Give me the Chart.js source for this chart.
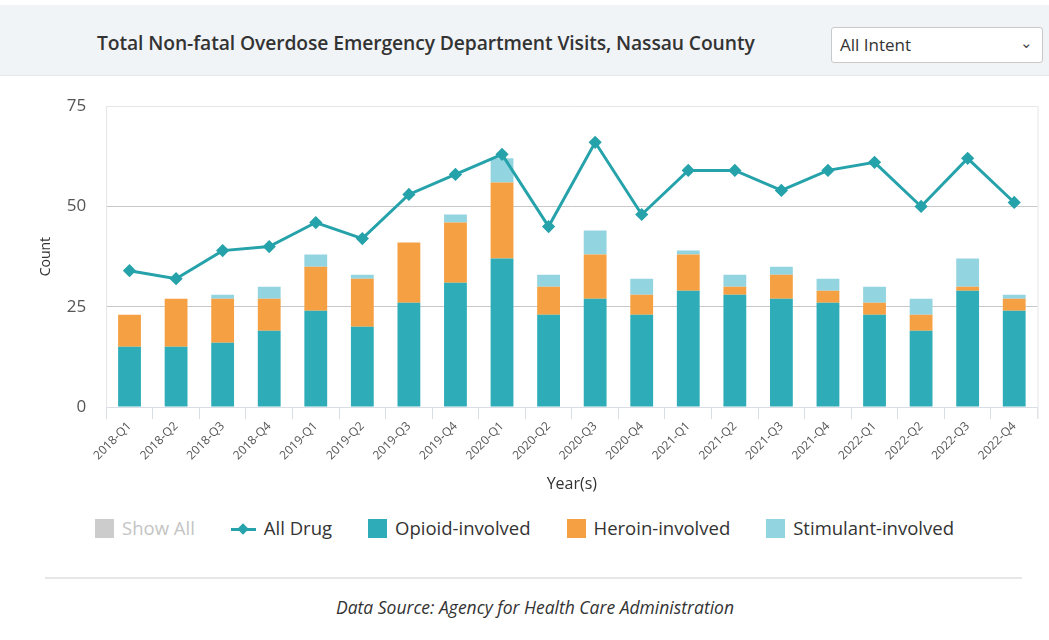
<!DOCTYPE html>
<html>
<head>
<meta charset="utf-8">
<script src="https://cdn.jsdelivr.net/npm/chart.js@4"></script>
<style>
  body { margin: 0; background: #fff; font-family: "Open Sans", sans-serif; }
  #page { position: relative; width: 1049px; height: 640px; overflow: hidden; }
  #header { position: absolute; left: 0; top: 5px; width: 1049px; height: 70px; background: #f1f4f7; border-bottom: 1px solid #e3e7eb; }
  #title { position: absolute; left: 97px; top: 24px; font-size: 19.3px; font-weight: 600; color: #333; letter-spacing: -0.1px; }
  #select { position: absolute; left: 831px; top: 22px; width: 212px; height: 36px; background: #fff; border: 1px solid #c9c9c9; border-radius: 3px; font-size: 17px; color: #333; line-height: 34px; box-sizing: border-box; padding-left: 8px; }
  #select span { position: absolute; right: 9px; top: -3px; font-size: 15px; color: #444; }
  #chartBox { position: absolute; left: 38px; top: 76px; width: 1007px; height: 422px; }
  #legend { position: absolute; left: 0; top: 512px; width: 1049px; text-align: center; font-size: 18.5px; color: #333; white-space: nowrap; }
  .item { display: inline-block; margin: 0 18px; vertical-align: middle; }
  .box { display: inline-block; width: 19px; height: 19px; vertical-align: -3px; margin-right: 8px; }
  .lineMark { display: inline-block; position: relative; width: 25px; height: 18px; vertical-align: -3px; margin-right: 8px; }
  .lineMark i { position: absolute; left: 0; top: 8px; width: 25px; height: 3px; }
  .lineMark b { position: absolute; left: 8px; top: 5px; width: 8px; height: 8px; transform: rotate(45deg); }
  #rule { position: absolute; left: 45px; top: 577px; width: 977px; height: 0; border-top: 2px solid #e6e6e6; }
  #source { position: absolute; left: 0; top: 595px; width: 1070px; text-align: center; font-size: 17.5px; font-style: italic; color: #333; }
</style>
</head>
<body>
<div id="page">
  <div id="header">
    <div id="title">Total Non-fatal Overdose Emergency Department Visits, Nassau County</div>
    <div id="select">All Intent<span>&#8964;</span></div>
  </div>
  <div id="chartBox"><canvas id="chart"></canvas></div>
  <div id="legend"></div>
  <div id="rule"></div>
  <div id="source">Data Source: Agency for Health Care Administration</div>
</div>
<script>
const quarters = [
  "2018-Q1", "2018-Q2", "2018-Q3", "2018-Q4",
  "2019-Q1", "2019-Q2", "2019-Q3", "2019-Q4",
  "2020-Q1", "2020-Q2", "2020-Q3", "2020-Q4",
  "2021-Q1", "2021-Q2", "2021-Q3", "2021-Q4",
  "2022-Q1", "2022-Q2", "2022-Q3", "2022-Q4"
];

const allDrug = [34, 32, 39, 40, 46, 42, 53, 58, 63, 45, 66, 48, 59, 59, 54, 59, 61, 50, 62, 51];
const opioid = [15, 15, 16, 19, 24, 20, 26, 31, 37, 23, 27, 23, 29, 28, 27, 26, 23, 19, 29, 24];
const heroin = [8, 12, 11, 8, 11, 12, 15, 15, 19, 7, 11, 5, 9, 2, 6, 3, 3, 4, 1, 3];
const stimulant = [0, 0, 1, 3, 3, 1, 0, 2, 6, 3, 6, 4, 1, 3, 2, 3, 4, 4, 7, 1];

const yTicks = [0, 25, 50, 75];

const colLine = '#25a2aa';
const colOpioid = '#2eadb8';
const colHeroin = '#f6a044';
const colStim = '#92d4e0';

// bordure droite du cadre du graphique
const plotBorder = {
  id: 'plotBorder',
  afterDraw(chart) {
    const { ctx, chartArea } = chart;
    ctx.save();
    ctx.strokeStyle = '#e6e6e6';
    ctx.lineWidth = 1;
    ctx.beginPath();
    ctx.moveTo(chartArea.right + 0.5, chartArea.top);
    ctx.lineTo(chartArea.right + 0.5, chartArea.bottom + 12);
    ctx.stroke();
    ctx.restore();
  }
};

const ctx = document.getElementById('chart').getContext('2d');
new Chart(ctx, {
  data: {
    labels: quarters,
    datasets: [
      {
        type: 'line',
        label: 'All Drug',
        data: allDrug,
        stack: 'total',
        order: 0,
        borderColor: colLine,
        backgroundColor: colLine,
        borderWidth: 3,
        tension: 0,
        pointStyle: 'rectRot',
        pointRadius: 4.5,
        pointBackgroundColor: colLine,
        pointBorderColor: colLine
      },
      { type: 'bar', label: 'Opioid-involved', data: opioid, stack: 'bars', order: 1, backgroundColor: colOpioid },
      { type: 'bar', label: 'Heroin-involved', data: heroin, stack: 'bars', order: 1, backgroundColor: colHeroin },
      { type: 'bar', label: 'Stimulant-involved', data: stimulant, stack: 'bars', order: 1, backgroundColor: colStim }
    ]
  },
  options: {
    responsive: true,
    maintainAspectRatio: false,
    animation: false,
    layout: { padding: { top: 2, right: 6, left: 0, bottom: 0 } },
    datasets: {
      bar: { categoryPercentage: 1, barPercentage: 0.49 }
    },
    plugins: {
      legend: { display: false },
      tooltip: { enabled: false }
    },
    scales: {
      x: {
        stacked: true,
        grid: {
          offset: true,
          drawOnChartArea: false,
          color: '#d8dde6',
          tickLength: 12
        },
        border: { color: '#d8dde6' },
        ticks: {
          color: '#555',
          font: { family: 'Open Sans', size: 12 },
          minRotation: 45,
          maxRotation: 45,
          autoSkip: false,
          padding: 0
        },
        title: {
          display: true,
          text: 'Year(s)',
          color: '#333',
          font: { family: 'Open Sans', size: 16 },
          padding: { top: 12 }
        }
      },
      y: {
        stacked: true,
        min: 0,
        max: 75,
        afterBuildTicks(axis) {
          axis.ticks = yTicks.map(v => ({ value: v }));
        },
        grid: {
          color: c => c.tick && c.tick.value === 75 ? '#e6e6e6' : '#c8c8c8',
          drawTicks: false
        },
        border: { display: true, color: '#e6e6e6' },
        ticks: {
          color: '#555',
          font: { family: 'Open Sans', size: 17 },
          padding: 20
        },
        title: {
          display: true,
          text: 'Count',
          color: '#333',
          font: { family: 'Open Sans', size: 14 },
          padding: { top: 0, bottom: -8 }
        }
      }
    }
  },
  plugins: [plotBorder]
});

// légende HTML
const legendItems = [
  { label: 'Show All', kind: 'box', color: '#cccccc', text: '#c4c4c4' },
  { label: 'All Drug', kind: 'line', color: colLine, text: '#333' },
  { label: 'Opioid-involved', kind: 'box', color: colOpioid, text: '#333' },
  { label: 'Heroin-involved', kind: 'box', color: colHeroin, text: '#333' },
  { label: 'Stimulant-involved', kind: 'box', color: colStim, text: '#333' }
];
const legendEl = document.getElementById('legend');
legendItems.forEach(it => {
  const span = document.createElement('span');
  span.className = 'item';
  span.style.color = it.text;
  const mark = it.kind === 'box'
    ? `<span class="box" style="background:${it.color}"></span>`
    : `<span class="lineMark"><i style="background:${it.color}"></i><b style="background:${it.color}"></b></span>`;
  span.innerHTML = mark + it.label;
  legendEl.appendChild(span);
});
</script>
</body>
</html>
